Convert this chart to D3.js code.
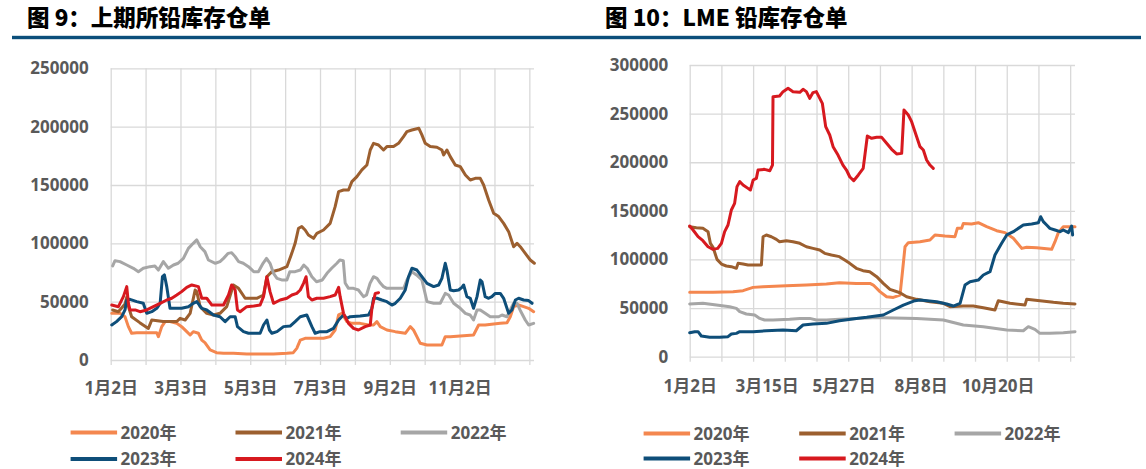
<!DOCTYPE html>
<html>
<head>
<meta charset="utf-8">
<script src="https://cdn.jsdelivr.net/npm/d3@7"></script>
<style>
body { margin: 0; background: #fff; }
text { font-family: "Noto Sans", "Noto Sans CJK SC", sans-serif; font-weight: bold; fill: #595959; }
.title { font-family: "Noto Sans CJK SC", sans-serif; fill: #000; font-size: 22.5px; font-weight: 900; }
</style>
</head>
<body>
<svg width="1146" height="469"></svg>
<script>
// series names, shared by both charts
const years = ['2020年', '2021年', '2022年', '2023年', '2024年'];
const colors = ['#F4874F', '#9C5F2F', '#A6A6A6', '#0E4E79', '#D7191F'];

// SHFE lead warrants, [day since 1月2日, tonnes]
const shfeTicks = ['1月2日', '3月3日', '5月3日', '7月3日', '9月2日', '11月2日'];
const shfeTickPos = [0, 60, 120, 180, 240, 300];
const shfeY = [0, 50000, 100000, 150000, 200000, 250000];
const shfe2020 = [[0.9,40000],[8,40000],[12.3,37100],[15.2,28600],[18,22900],[22.4,23400],[31,23400],[39.6,23400],[41,20000],[43.9,28600],[46.8,32900],[51,32900],[56.8,31400],[61,28600],[65.4,24300],[68.3,21400],[71,24300],[75.4,22900],[78.3,17100],[81,14900],[85.5,8600],[91,6300],[97,5700],[105.5,5700],[117,5100],[128.5,5100],[140,5100],[151.5,5700],[157,6300],[160,10000],[163,17100],[167.2,18600],[174.4,18600],[183,18600],[188.7,20000],[193,25700],[196,38600],[198.8,40000],[203,32900],[207.4,31400],[214.5,31400],[221.7,30000],[226,30000],[228.9,32900],[231.8,28600],[237.5,25700],[244.7,24300],[253.3,22900],[257.6,28600],[260.4,25700],[263.3,20000],[266.2,14300],[272,12900],[284.8,12900],[287.7,20000],[292,20000],[300.6,20600],[312,21400],[316.4,30000],[322,30000],[329.3,30900],[335,31400],[340.8,32000],[343.6,37100],[346.5,45700],[350.8,47100],[355.1,45700],[359.4,44300],[363.7,41400]];
const shfe2021 = [[1.7,42900],[6.6,41400],[12.3,48000],[13.8,54000],[15.5,45000],[18,37100],[25,32000],[32.4,27100],[35.3,34300],[45,33000],[56.8,33000],[59.7,35700],[64,34300],[68.3,40000],[72.6,60000],[74,58600],[76.9,45700],[82.6,40000],[88.4,38600],[94,40000],[99.8,45700],[105.5,64300],[109.9,61400],[115.6,52900],[125.6,52900],[131.4,55700],[134.3,71400],[138.6,75700],[144.3,77100],[151.5,80000],[155.7,91400],[158.6,100000],[161.5,112900],[164.3,114300],[167.2,111400],[170,107100],[174.4,104300],[177.3,108600],[183,111400],[188.7,117100],[193,131400],[196,144300],[200.2,145700],[204.5,145700],[207.4,152900],[211.7,157100],[216,162900],[220.3,167100],[223.2,180000],[226,185700],[230.3,184300],[234.6,180000],[237.5,182900],[243.2,182900],[247.5,185700],[251.8,191400],[254.7,195700],[259,197100],[265,198600],[267.6,192900],[270.5,185700],[274.8,182900],[280.5,182300],[284.8,180000],[286.3,175700],[289.1,180000],[292,174300],[296.3,167100],[300.6,165700],[305,158600],[309.2,154300],[313.5,155700],[317.8,155700],[320.7,150000],[325,137100],[329.3,125700],[333.6,122900],[337.9,117100],[342.2,110000],[346.5,97100],[349.4,100000],[352.2,97100],[356.5,91400],[360.8,85700],[364.3,82900]];
const shfe2022 = [[1.7,80600],[3.7,85100],[8,84300],[13.8,81400],[19.5,78600],[23.8,75700],[28,78600],[33.8,80000],[38,80600],[41,77100],[45.3,84300],[49.6,78600],[54,81400],[58,82900],[62.5,87100],[66.8,95700],[71,100000],[74,102900],[77,97100],[81,92900],[84,85700],[90,82900],[94,84300],[97,87100],[101,91400],[104,92000],[107,88600],[110,84300],[114,82900],[118.5,80000],[123,75700],[127,75700],[131,82900],[134,87100],[137,82900],[140,74300],[143,70000],[147,68600],[151.5,68600],[154,75700],[158.6,75700],[163,77100],[166,81400],[169,78600],[173,71400],[177,67100],[182,68600],[186,74300],[190,78600],[194.5,82900],[197,85700],[200,85100],[201.6,66000],[204.5,61400],[208.8,61400],[213,60000],[217.4,54300],[220,55700],[223,65700],[226,71400],[229,70000],[232,65700],[234.6,62900],[237.5,61400],[252,61400],[254.7,68600],[259,75700],[263,72900],[267.6,68600],[272,50000],[277.7,48600],[283.4,48600],[287.7,57100],[290.6,55700],[294.9,48600],[300.6,44300],[305,40000],[309,38600],[312,34300],[315,42900],[317.8,42900],[322,40000],[326.4,37100],[333.6,37100],[336.5,38600],[340.8,37100],[343.6,42900],[346.5,48600],[349.4,48600],[352,42900],[356.5,34300],[359.4,30000],[363.7,31400]];
const shfe2023 = [[0.9,30000],[5,32900],[9.5,37100],[12.3,42900],[13.8,51400],[16.6,52000],[22.4,50000],[28,48600],[31,40000],[35.3,41400],[39.6,44300],[42.5,48600],[44.5,71400],[46.2,72900],[48.2,62900],[51,44300],[55.4,44300],[61,44300],[66.8,45700],[71,48600],[74,50000],[78.3,44300],[82.6,42900],[88.4,38600],[94,37100],[98.4,32900],[102.7,37100],[107,37100],[109,28600],[114.2,24300],[118.5,22900],[128.5,22900],[131.4,30000],[134.3,34300],[136.5,25700],[138.6,22900],[143,24300],[148.6,28600],[154.3,29100],[158.6,32900],[163,37100],[168.6,38600],[173,28600],[175.8,22900],[180,24300],[186,24300],[191.6,27100],[196,34300],[200.2,38600],[203,35700],[206,37100],[214.5,37700],[221.7,38600],[224.6,44300],[226,52900],[229,52900],[233.2,51400],[237.5,50000],[241.8,47100],[244.7,48600],[249,52900],[253.3,60000],[256.1,71400],[259,78600],[263.3,77100],[267.6,71400],[272,65700],[277.7,62900],[282,64300],[284.8,70000],[287.7,82900],[289.1,77100],[292,60000],[294.9,59400],[299.2,60000],[302,62300],[303.5,64300],[306.3,54300],[309.2,52900],[312,44300],[315,54300],[317.8,68600],[319.3,67100],[322,54300],[325,52900],[327.8,54300],[330.7,57100],[335,57100],[337.9,52900],[342.2,40000],[345,42900],[348,51400],[350.8,52900],[355.1,51400],[359.4,50900],[362.3,48600]];
const shfe2024 = [[0.9,47100],[6.6,45700],[10.9,54300],[13.8,62900],[15.2,48600],[16.6,42900],[21,42900],[25.2,41400],[31,42900],[36.7,45700],[42.5,48600],[48.2,51400],[52.5,52900],[56.8,55700],[61,58600],[65.4,62300],[69.7,64300],[75.4,62900],[78.3,52900],[82.6,52900],[87,47100],[97,47100],[101.3,55700],[104,64300],[107,60000],[109,42900],[111.3,41400],[117,45700],[123,46300],[128.5,47100],[131.4,54300],[134.3,71400],[137,58600],[140,48600],[145.7,51400],[151.5,52900],[155.8,55700],[160,57100],[163,60000],[165.8,65700],[168,71400],[170,54300],[173,51400],[177.3,52900],[183,52900],[188.7,54300],[193,55700],[196,62300],[197.3,54300],[200.2,40000],[204.5,31400],[208.8,27100],[213,25700],[218.8,28600],[223.2,30000],[224.6,44300],[227.5,57100],[230.3,57700]];

// LME lead stocks, [category position, tonnes]
const lmeTicks = ['1月2日', '3月15日', '5月27日', '8月8日', '10月20日'];
const lmeTickPos = [0, 87.4, 174.8, 262.2, 349.6];
const lmeY = [0, 50000, 100000, 150000, 200000, 250000, 300000];
const lme2020 = [[0,66200],[26.5,66200],[49.2,66900],[60.6,67900],[72,71300],[83.3,72000],[109.8,73000],[132.5,73700],[155.2,74700],[170,76100],[189.2,75400],[204.7,75400],[208.5,73700],[216,66900],[223.6,61700],[231.2,61000],[238.8,63400],[241.8,89200],[244.5,113100],[248.2,117300],[261.5,118300],[272.8,120000],[278.5,125200],[289.9,124100],[301.2,123400],[303.9,132000],[308.8,132000],[310.7,137100],[320,136500],[327.7,137800],[337.2,133700],[348.5,129600],[358,127600],[367.5,121800],[377,111400],[382.6,112500],[394,112100],[411,110400],[414.8,118300],[418.6,127600],[424.2,133700],[437.5,133700]];
const lme2021 = [[0,133700],[7.6,132700],[15,132000],[20.8,128600],[23.5,116600],[26.5,112500],[31,100100],[36,95300],[41.6,93300],[47.3,92600],[53,90900],[54.9,96000],[60.6,95300],[66.2,94300],[81.4,94300],[83.3,123400],[87,125200],[92.7,123400],[98.4,120700],[102,118300],[109.8,119300],[117.3,118300],[125,116600],[132.5,113100],[140,111400],[147.6,109700],[153.3,106300],[160.9,104600],[170,102900],[176,99400],[181.7,96000],[189.2,90900],[196.8,88500],[204.4,87400],[212.3,82300],[219.8,75400],[227.4,69300],[238.8,65800],[246.3,61700],[257.7,59000],[272.8,56600],[288,54900],[295.6,51400],[310.7,52100],[322,52100],[333.4,50400],[346.6,48000],[350.4,57600],[363.7,54900],[380.7,53100],[382.6,59000],[397.7,57600],[413,55900],[424.2,54900],[437.5,54200]];
const lme2022 = [[0,54200],[15,54900],[30.3,53100],[45.4,51400],[53,49700],[56.8,46300],[64.3,43900],[73.8,42900],[79.5,39400],[85,37700],[94.6,37700],[113.5,38400],[125,39400],[136.3,39400],[143.8,37700],[155.2,37700],[170,38400],[189.2,39400],[208,40100],[219.8,40100],[257.7,39400],[288,37700],[310.7,32600],[333.4,30900],[360,27400],[378.8,26700],[384.5,30900],[392,28100],[397.7,24000],[409,24000],[424.2,24700],[437.5,25700]];
const lme2023 = [[0,24700],[5.7,25700],[9.5,25700],[13.2,21300],[22.7,19900],[34,19900],[43.5,20600],[47.3,23300],[53,24000],[56.8,25700],[72,25700],[87,26700],[106,27400],[121,26700],[128.7,32600],[140,33600],[155.2,34300],[170,37000],[189.2,39400],[201,40500],[219.8,42900],[231.2,48000],[242.6,53100],[255.8,57600],[261.5,58300],[280.4,56600],[291.8,54200],[299.3,52100],[307,54900],[312.6,73700],[318.3,77100],[327.7,78800],[333.4,84000],[341,87400],[346.6,104600],[354.2,116600],[360,125200],[367.5,128600],[378.8,135400],[388.3,136500],[395.9,137800],[398.5,144000],[401.5,138900],[405.3,135400],[409,132000],[414.8,130300],[420.5,128600],[424.2,130300],[430,127600],[433.7,134400],[434.8,125200]];
const lme2024 = [[0,134400],[3.8,130300],[9.5,123400],[15,119300],[20.8,113100],[26.5,110400],[31.8,111400],[36,116600],[39.7,128600],[43.5,135400],[47.3,150900],[51,157700],[53.7,174900],[56.8,180000],[60.6,176600],[66.2,173100],[68.9,171400],[72,181700],[75.7,183400],[77.6,192000],[85,192700],[91,191300],[94,197100],[94.6,267400],[102,268100],[106,272600],[111.7,276000],[117.3,272600],[125,271900],[128.7,275000],[132.5,272600],[136.3,265700],[140,271600],[143.8,272600],[150.6,260600],[154.4,236600],[159,228000],[162.8,216000],[168.4,207400],[174,197100],[178,192000],[181.7,185100],[186.2,181000],[191.5,186900],[197,193700],[201.7,227000],[206.6,224600],[212.3,225600],[218,225600],[223.6,219500],[229.3,213300],[235,208500],[240.7,209100],[243.3,253700],[248.2,248600],[252,241700],[257.7,226300],[261.5,216000],[265.3,212600],[269,202300],[272.8,197100],[276.6,193700]];

const svg = d3.select('svg');

// blue rule under the titles
svg.append('rect').attr('x', 12).attr('y', 35.8).attr('width', 1129).attr('height', 3.4).attr('fill', '#0B4F7B');
svg.append('text').attr('class', 'title').attr('x', 27).attr('y', 26).text('图 9：上期所铅库存仓单');
svg.append('text').attr('class', 'title').attr('x', 605).attr('y', 26).text('图 10：LME 铅库存仓单');

function drawChart(o) {
    const x = d3.scaleLinear().domain([0, o.xMax]).range([o.left, o.right]);
    const y = d3.scaleLinear().domain([0, o.yMax]).range([o.bottom, o.top]);
    const g = svg.append('g');

    const yAxis = g.append('g')
        .attr('transform', `translate(${o.left},0)`)
        .call(d3.axisLeft(y).tickValues(o.yTicks).tickSize(-(o.right - o.left)).tickPadding(o.yPad).tickFormat(d => d));
    // vertical grid + small ticks under the zero line
    const xGrid = g.append('g')
        .attr('transform', `translate(0,${o.bottom + 5})`)
        .call(d3.axisBottom(x).tickValues(d3.range(0, o.xMax, o.step)).tickSize(-(o.bottom - o.top + 5)).tickFormat(''));
    const xAxis = g.append('g')
        .attr('transform', `translate(0,${o.bottom + 5})`)
        .call(d3.axisBottom(x).tickValues(o.tickPos).tickSize(0).tickPadding(o.xPad)
            .tickFormat((d, i) => o.labels[i]));
    [xGrid, xAxis, yAxis].forEach(a => {
        a.select('.domain').remove();
        a.selectAll('line').attr('stroke', '#D9D9D9').attr('stroke-width', 1.3);
        a.selectAll('text').style('font-size', '17px');
    });

    const line = d3.line().x(d => x(d[0])).y(d => y(d[1]));
    o.series.forEach((s, i) => {
        g.append('path').datum(s).attr('d', line)
            .attr('fill', 'none').attr('stroke', colors[i]).attr('stroke-width', 3)
            .attr('stroke-linejoin', 'round').attr('stroke-linecap', 'round');
    });

    // legend, 3 per row
    years.forEach((name, i) => {
        const lx = o.legX[i % 3], ly = o.legY[Math.floor(i / 3)];
        g.append('line').attr('x1', lx).attr('x2', lx + 46.5).attr('y1', ly).attr('y2', ly)
            .attr('stroke', colors[i]).attr('stroke-width', 4);
        g.append('text').attr('x', lx + 50).attr('y', ly).attr('dy', '0.36em')
            .style('font-size', '17px').text(name);
    });
}

drawChart({
    left: 110.7, right: 534, top: 68.3, bottom: 360,
    xMax: 364, step: 30, yMax: 250000, yTicks: shfeY, labels: shfeTicks, tickPos: shfeTickPos,
    yPad: 22, xPad: 17,
    series: [shfe2020, shfe2021, shfe2022, shfe2023, shfe2024],
    legX: [70.6, 235.5, 400.7], legY: [432.4, 459]
});

drawChart({
    left: 689.7, right: 1075, top: 65, bottom: 356.7,
    xMax: 437.5, step: 36, yMax: 300000, yTicks: lmeY, labels: lmeTicks, tickPos: lmeTickPos,
    yPad: 21.5, xPad: 18,
    series: [lme2020, lme2021, lme2022, lme2023, lme2024],
    legX: [643.6, 799.2, 954.6], legY: [433.5, 458.5]
});
</script>
</body>
</html>
